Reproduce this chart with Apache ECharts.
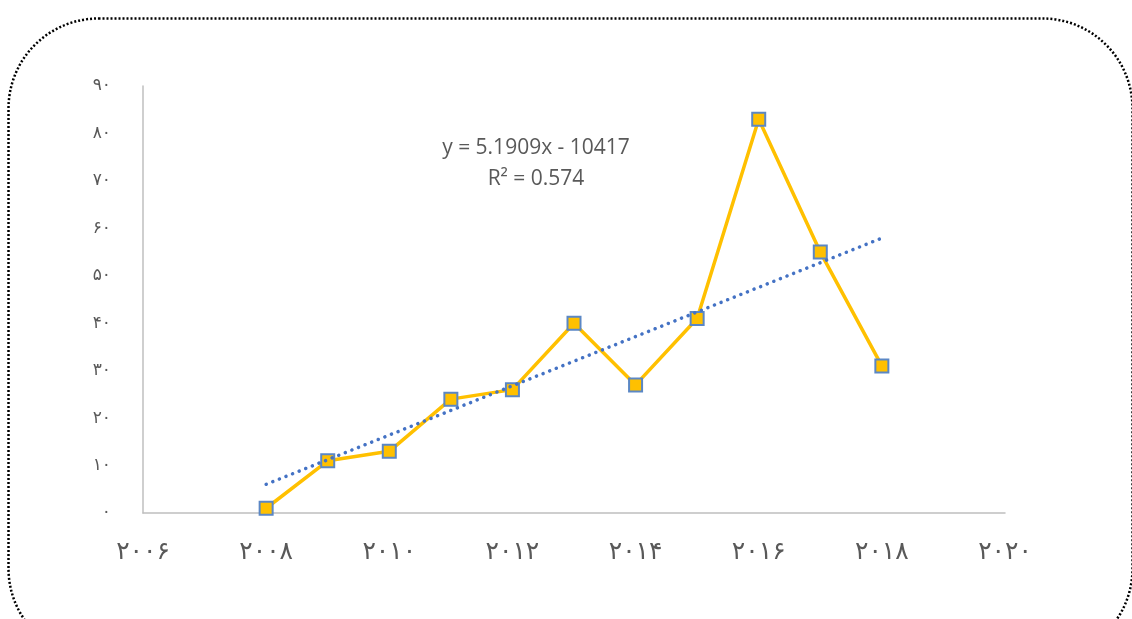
<!DOCTYPE html>
<html>
<head>
<meta charset="utf-8">
<script src="https://cdn.jsdelivr.net/npm/echarts@6/dist/echarts.min.js"></script>
<style>
  html, body { margin: 0; padding: 0; background: #fff; }
  #chart { width: 1132px; height: 619px; }
</style>
</head>
<body>
<div id="chart"></div>
<script>
// داده‌ها
const years = [2008, 2009, 2010, 2011, 2012, 2013, 2014, 2015, 2016, 2017, 2018];
const values = [1, 11, 13, 24, 26, 40, 27, 41, 83, 55, 31];
// trendline endpoints
const trendYears = [2008, 2018];
const trendValues = [6.05, 57.95];
const xTickLabels = { 2006: "۲۰۰۶", 2008: "۲۰۰۸", 2010: "۲۰۱۰", 2012: "۲۰۱۲", 2014: "۲۰۱۴", 2016: "۲۰۱۶", 2018: "۲۰۱۸", 2020: "۲۰۲۰" };
const yTickLabels = { 0: "۰", 10: "۱۰", 20: "۲۰", 30: "۳۰", 40: "۴۰", 50: "۵۰", 60: "۶۰", 70: "۷۰", 80: "۸۰", 90: "۹۰" };
const equationText = "y = 5.1909x - 10417\nR² = 0.574";

const chart = echarts.init(document.getElementById("chart"));
chart.setOption({
  animation: false,
  grid: { left: 143, right: 127, top: 86, bottom: 106 },
  xAxis: {
    type: "value",
    min: 2006,
    max: 2020,
    interval: 2,
    axisLine: { show: true, lineStyle: { color: "#bfbfbf", width: 1.5 } },
    axisTick: { show: false },
    splitLine: { show: false },
    axisLabel: {
      margin: 27,
      color: "#595959",
      fontSize: 25,
      fontFamily: "DejaVu Sans",
      formatter: (v) => xTickLabels[v] || ""
    }
  },
  yAxis: {
    type: "value",
    min: 0,
    max: 90,
    interval: 10,
    axisLine: { show: true, lineStyle: { color: "#bfbfbf", width: 1.5 } },
    axisTick: { show: false },
    splitLine: { show: false },
    axisLabel: {
      margin: 32,
      color: "#595959",
      fontSize: 17,
      fontFamily: "DejaVu Sans",
      formatter: (v) => yTickLabels[v] || ""
    }
  },
  graphic: [
    {
      type: "rect",
      left: 6,
      top: 16,
      shape: { width: 1124, height: 640, r: 90 },
      style: { fill: "none", stroke: "#000", lineWidth: 2.5, lineDash: [2, 2] },
      silent: true
    },
    {
      type: "text",
      x: 536,
      y: 133,
      style: {
        text: equationText,
        fill: "#595959",
        font: "21px 'Open Sans', sans-serif",
        align: "center",
        lineHeight: 31
      }
    }
  ],
  series: [
    {
      type: "line",
      data: trendYears.map((y, i) => [y, trendValues[i]]),
      symbol: "none",
      lineStyle: { color: "#4472c4", width: 3.5, type: [0.1, 7], cap: "round" },
      z: 3
    },
    {
      type: "line",
      data: years.map((y, i) => [y, values[i]]),
      symbol: "rect",
      symbolSize: 13,
      lineStyle: { color: "#ffc000", width: 3.5 },
      itemStyle: { color: "#ffc000", borderColor: "#5b87c5", borderWidth: 2 },
      z: 2
    }
  ]
});
</script>
</body>
</html>
